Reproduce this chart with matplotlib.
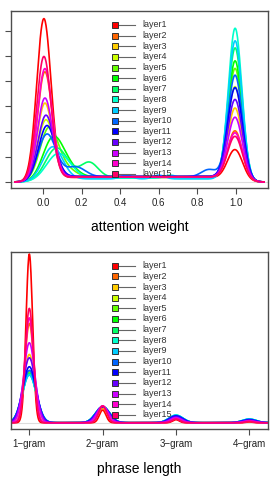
import numpy as np
import matplotlib
matplotlib.use("Agg")
import matplotlib.pyplot as plt

plt.rcParams['font.family'] = ['Liberation Sans', 'DejaVu Sans']

# layers and their colours (R rainbow(15))
layers = ["layer1", "layer2", "layer3", "layer4", "layer5", "layer6", "layer7", "layer8",
          "layer9", "layer10", "layer11", "layer12", "layer13", "layer14", "layer15"]
colors = ["#FF0000", "#FF6600", "#FFCC00", "#CCFF00", "#66FF00", "#00FF00", "#00FF66", "#00FFCC",
          "#00CCFF", "#0066FF", "#0000FF", "#6600FF", "#CC00FF", "#FF00CC", "#FF0066"]

# ---- attention weight densities ----
# main mode near 0
w0_height = [6.42, 4.29, 3.04, 2.37, 2.00, 1.56, 1.20, 1.00, 1.31, 1.80, 2.13, 2.55, 3.25, 4.42, 4.91]
w0_pos = [0.005, 0.01, 0.01, 0.015, 0.03, 0.05, 0.07, 0.08, 0.05, 0.02, 0.02, 0.015, 0.01, 0.01, 0.005]
w0_width = [0.037, 0.038, 0.039, 0.042, 0.047, 0.052, 0.057, 0.062, 0.052, 0.047, 0.043, 0.041, 0.039, 0.038, 0.037]
# mode near 1
w1_height = [1.23, 1.97, 2.87, 3.72, 4.45, 4.75, 5.27, 6.06, 5.57, 4.18, 3.68, 3.21, 2.51, 1.89, 1.75]
w1_pos = [0.995] * 15
w1_width = [0.039, 0.038, 0.037, 0.037, 0.036, 0.036, 0.036, 0.035, 0.036, 0.037, 0.038, 0.038, 0.038, 0.039, 0.039]
# level between the two modes
w_mid = [0.18, 0.2, 0.22, 0.22, 0.2, 0.2, 0.18, 0.15, 0.12, 0.2, 0.22, 0.22, 0.2, 0.2, 0.2]
# smaller bumps: (layer index, position, height, width)
w_bumps = [(6, 0.24, 0.6, 0.045), (5, 0.13, 0.35, 0.05), (9, 0.17, 0.4, 0.05),
           (8, 0.43, 0.15, 0.03), (8, 0.6, 0.15, 0.03), (9, 0.86, 0.3, 0.04),
           (7, 0.66, 0.12, 0.03), (4, 0.12, 0.3, 0.05)]

# ---- phrase length densities ----
grams = [1, 2, 3, 4]
gram_labels = ["1\u2212gram", "2\u2212gram", "3\u2212gram", "4\u2212gram"]
g1_height = [1.0, 0.589, 0.405, 0.31, 0.30, 0.29, 0.29, 0.283, 0.283, 0.31, 0.332, 0.385, 0.474, 0.622, 0.678]
g2_height = [0.075, 0.085, 0.09, 0.095, 0.095, 0.095, 0.095, 0.095, 0.095, 0.095, 0.095, 0.095, 0.1, 0.1, 0.1]
g3_height = [0.018, 0.025, 0.03, 0.035, 0.04, 0.042, 0.044, 0.045, 0.045, 0.042, 0.04, 0.035, 0.03, 0.025, 0.022]
g4_height = [0.005, 0.008, 0.012, 0.015, 0.018, 0.02, 0.021, 0.022, 0.022, 0.02, 0.018, 0.015, 0.012, 0.01, 0.008]
g_width = [0.045, 0.06, 0.075, 0.085, 0.09, 0.095, 0.095, 0.095, 0.095, 0.095, 0.09, 0.085, 0.075, 0.06, 0.055]


def bump(x, mu, s):
    return np.exp(-0.5 * ((x - mu) / s) ** 2)


def step(x, a, b, s=0.03):
    return 1 / (1 + np.exp(-(x - a) / s)) - 1 / (1 + np.exp(-(x - b) / s))


frame_col = "#4d4d4d"
fig = plt.figure(figsize=(2.79, 4.83), dpi=100)
ax1 = fig.add_axes([0.0394, 0.6108, 0.9212, 0.3664])
ax2 = fig.add_axes([0.0394, 0.1118, 0.9212, 0.3671])

# top panel
x = np.linspace(-0.145, 1.145, 600)
ax1.axhline(0, color="#dddddd", lw=0.8, zorder=0)
for i in range(len(layers)):
    y = (w0_height[i] * bump(x, w0_pos[i], w0_width[i])
         + w1_height[i] * bump(x, w1_pos[i], w1_width[i])
         + w_mid[i] * step(x, 0.02, 0.97))
    for (j, mu, h, s) in w_bumps:
        if j == i:
            y = y + h * bump(x, mu, s)
    ax1.plot(x, y, color=colors[i], lw=1.2)
ax1.set_xlim(-0.165, 1.165)
ax1.set_ylim(-0.24, 6.79)
ax1.set_xticks([0.0, 0.2, 0.4, 0.6, 0.8, 1.0])
ax1.set_xticklabels(["0.0", "0.2", "0.4", "0.6", "0.8", "1.0"])
ax1.set_yticks(range(7))
ax1.set_yticklabels([])
ax1.set_xlabel("attention weight", fontsize=10, labelpad=8)

# bottom panel
xg = np.linspace(0.75, 4.255, 800)
ax2.axhline(0, color="#dddddd", lw=0.8, zorder=0)
for i in range(len(layers)):
    hs = [g1_height[i], g2_height[i], g3_height[i], g4_height[i]]
    y = sum(h * bump(xg, g, g_width[i]) for h, g in zip(hs, grams))
    ax2.plot(xg, y, color=colors[i], lw=1.2)
ax2.set_xlim(0.75, 4.255)
ax2.set_ylim(-0.037, 1.014)
ax2.set_xticks(grams)
ax2.set_xticklabels(gram_labels)
ax2.set_yticks([])
ax2.set_xlabel("phrase length", fontsize=10, labelpad=9)

for ax in (ax1, ax2):
    for sp in ax.spines.values():
        sp.set_color(frame_col)
        sp.set_linewidth(1.0)
    ax.tick_params(axis="x", length=4, width=0.8, color=frame_col, labelsize=7, pad=3.5,
                   labelcolor="#222222")
    ax.tick_params(axis="y", length=4.5, width=0.8, color=frame_col)
    # legend drawn R-style: square with a line to its right
    for i, name in enumerate(layers):
        yy = 0.921 - i * 0.0601
        ax.plot([0.4047, 0.4825], [yy, yy], transform=ax.transAxes, color="#666666", lw=0.8,
                zorder=5)
        ax.plot([0.4047], [yy], transform=ax.transAxes, marker="s", ms=4.6, mfc=colors[i],
                mec="#333333", mew=0.7, zorder=6)
        ax.text(0.5125, yy, name, transform=ax.transAxes, fontsize=6.5, va="center",
                ha="left", color="#333333", zorder=6)

fig.savefig("out.png", dpi=100)
